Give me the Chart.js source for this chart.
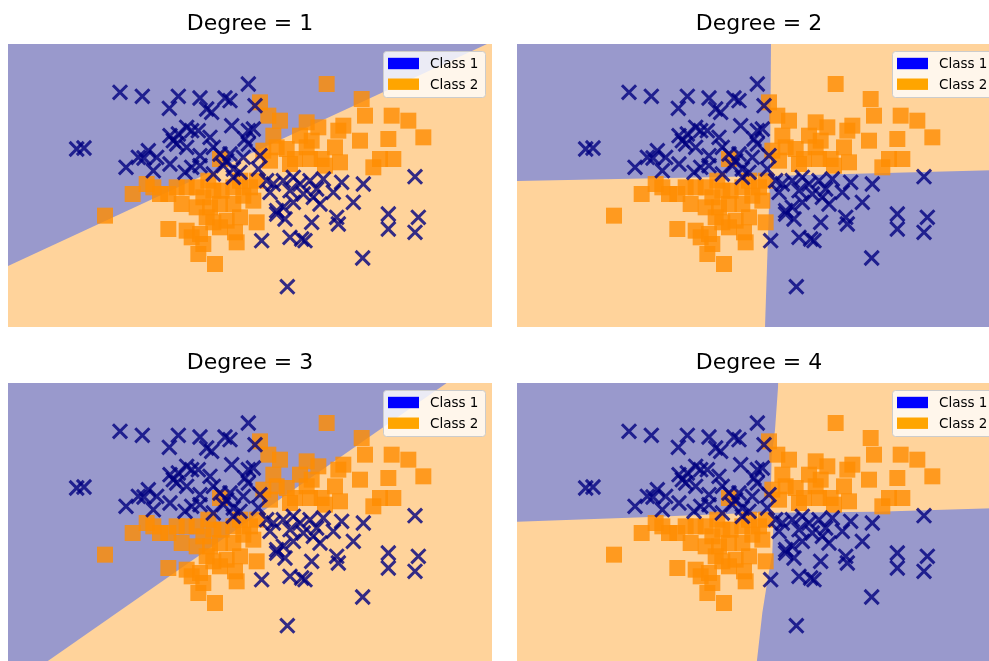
<!DOCTYPE html>
<html>
<head>
<meta charset="utf-8">
<script src="https://cdn.jsdelivr.net/npm/chart.js@4/dist/chart.umd.min.js"></script>
<style>
  html, body { margin: 0; padding: 0; background: #fff; overflow: hidden; width: 989px; height: 661px; }
  .panel { position: absolute; width: 484px; height: 327px; }
</style>
</head>
<body>
<div class="panel" style="left:8px;top:0"><canvas id="deg1" width="484" height="327"></canvas></div>
<div class="panel" style="left:517px;top:0"><canvas id="deg2" width="484" height="327"></canvas></div>
<div class="panel" style="left:8px;top:339px"><canvas id="deg3" width="484" height="327"></canvas></div>
<div class="panel" style="left:517px;top:339px"><canvas id="deg4" width="484" height="327"></canvas></div>
<script>
// Polynomial decision regions, degree 1..4, same two-class sample in every panel.

const X_MIN = 0, X_MAX = 14.52;
const Y_MIN = 0, Y_MAX = 8.49;

const degrees = [1, 2, 3, 4];
const legendLabels = ["Class 1", "Class 2"];
const legendColors = ["#0000ff", "#ffa500"];

// class 1 (navy x)
const class1X = [3.36,4.03,5.11,4.84,5.76,5.96,6.11,6.51,6.66,7.21,7.41,2.06,2.28,3.54,3.91,4.21,4.08,4.36,4.46,4.86,
  4.96,5.11,5.36,5.51,5.06,5.36,5.71,6.06,5.76,6.16,6.71,7.21,7.36,7.11,7.21,6.36,6.66,6.56,4.86,5.31,
  5.51,5.76,6.16,6.46,6.76,6.96,6.76,7.56,7.51,7.76,7.96,7.86,8.26,8.56,8.76,8.86,9.06,9.26,9.46,9.76,
  10.01,10.66,10.36,9.36,8.56,8.26,8.06,8.31,9.11,9.86,9.91,8.46,8.81,8.91,7.61,11.41,11.41,12.31,12.21,12.21,
  10.64,8.38,7.06,9.16,8.46,8.06];
const class1Y = [7.04,6.92,6.92,6.56,6.87,6.54,6.44,6.87,6.79,7.29,6.64,5.34,5.37,4.79,5.09,5.29,5.07,4.69,5.09,5.74,
  5.59,5.79,5.99,5.89,5.49,5.39,5.89,5.69,5.14,5.39,6.04,5.89,5.94,5.64,5.49,5.19,5.19,4.99,4.89,4.64,
  4.79,4.84,4.59,4.84,4.74,4.64,4.49,5.14,4.74,4.39,4.29,4.04,4.39,4.49,4.29,3.99,4.39,4.14,4.44,4.04,
  4.34,4.29,3.74,3.69,3.74,3.59,3.39,3.24,3.14,3.29,3.09,2.69,2.64,2.59,2.59,3.39,2.94,3.29,2.84,4.51,
  2.07,1.21,5.09,3.89,4.09,3.49];

// class 2 (orange squares)
const class2X = [9.56,10.61,10.71,11.51,12.01,12.46,11.41,10.56,10.06,9.91,9.81,9.96,11.16,11.56,10.96,9.31,8.96,9.11,8.76,8.96,
  9.41,9.51,9.06,8.61,8.46,8.16,7.81,7.56,7.96,7.66,8.06,8.36,7.86,2.91,3.74,4.16,4.56,4.81,5.06,5.36,
  5.21,5.66,5.86,6.01,6.16,6.41,6.76,6.96,7.26,7.36,6.76,6.36,6.06,5.96,6.56,6.96,7.46,4.81,5.36,5.51,
  5.76,5.86,5.71,6.21,6.81,6.86,6.36,6.16,7.06,5.66,6.36,7.46,4.36];
const class2Y = [7.29,6.84,6.34,6.34,6.19,5.69,5.64,5.59,6.04,5.89,5.39,4.94,5.04,5.04,4.79,5.99,6.14,5.59,5.74,5.39,
  5.04,4.84,5.04,5.04,4.89,6.19,6.34,6.74,5.74,5.29,5.39,5.34,4.99,3.34,3.99,4.29,3.99,3.99,4.19,4.19,
  3.69,4.19,3.89,4.39,4.09,4.09,4.19,4.39,4.19,3.79,3.69,3.69,3.59,3.29,3.19,3.29,3.14,2.94,2.89,2.69,
  2.79,2.49,2.19,1.89,2.84,2.54,2.99,3.14,3.94,3.59,5.04,4.39,4.19];

// class-1 regions: boundary points, filled to the top ("end") or bottom ("start")
const regions = {
  1: [
    { x: [0, 14.37], y: [1.83, 8.49], fill: "end" },
  ],
  2: [
    { x: [0, 7.59, 7.62], y: [4.38, 4.53, 8.49], fill: "end" },
    { x: [7.44, 7.59, 14.52], y: [0, 4.53, 4.71], fill: "start" },
  ],
  3: [
    { x: [0, 0.98, 13.16], y: [0, 0, 8.49], fill: "end" },
  ],
  4: [
    { x: [0, 3.79, 6.79, 7.60, 7.64, 7.74, 7.84], y: [4.33, 4.46, 4.58, 4.60, 6.30, 7.08, 8.49], fill: "end" },
    { x: [7.18, 7.36, 7.52, 7.66, 7.70, 10.79, 14.52], y: [0, 1.60, 2.60, 3.40, 4.60, 4.63, 4.74], fill: "start" },
  ],
};

const BG_CLASS1 = "#9999cc";
const BG_CLASS2 = "#ffd39b";

const toPts = (xs, ys) => xs.map((x, i) => ({ x, y: ys[i] }));

const boxLegend = {
  id: "boxLegend",
  afterDatasetsDraw(chart) {
    const { ctx, chartArea: a } = chart;
    const w = 102, h = 46;
    const x0 = a.right - 7 - w, y0 = a.top + 7;
    ctx.save();
    ctx.beginPath();
    ctx.roundRect(x0 + 0.5, y0 + 0.5, w, h, 3);
    ctx.fillStyle = "rgba(255,255,255,0.8)";
    ctx.fill();
    ctx.strokeStyle = "#cccccc";
    ctx.lineWidth = 1;
    ctx.stroke();
    ctx.font = '13.5px "DejaVu Sans"';
    ctx.textBaseline = "middle";
    legendLabels.forEach((lab, i) => {
      const cy = y0 + 12.5 + i * 20.7;
      ctx.fillStyle = legendColors[i];
      ctx.fillRect(x0 + 5, cy - 5.7, 31, 11.4);
      ctx.fillStyle = "#000";
      ctx.fillText(lab, x0 + 47, cy + 1);
    });
    ctx.restore();
  },
};

function makeChart(deg) {
  const regionSets = regions[deg].map(r => ({
    type: "line",
    data: toPts(r.x, r.y),
    borderWidth: 0,
    pointRadius: 0,
    tension: 0,
    fill: r.fill,
    backgroundColor: BG_CLASS1,
    order: 2,
  }));
  new Chart(document.getElementById("deg" + deg), {
    type: "scatter",
    data: {
      datasets: [
        {
          label: legendLabels[0],
          data: toPts(class1X, class1Y),
          pointStyle: "crossRot",
          pointRadius: 10,
          borderWidth: 3,
          borderColor: "rgba(0,0,128,0.8)",
          backgroundColor: "rgba(0,0,128,0.8)",
          order: 0,
        },
        {
          label: legendLabels[1],
          data: toPts(class2X, class2Y),
          pointStyle: "rect",
          pointRadius: 11.3,
          borderWidth: 0,
          backgroundColor: "rgba(255,140,0,0.8)",
          order: 1,
        },
        ...regionSets,
        {
          type: "line",
          data: toPts([X_MIN, X_MAX], [Y_MIN, Y_MIN]),
          borderWidth: 0,
          pointRadius: 0,
          fill: "end",
          backgroundColor: BG_CLASS2,
          order: 3,
        },
      ],
    },
    options: {
      responsive: false,
      animation: false,
      events: [],
      layout: { padding: 0, autoPadding: false },
      scales: {
        x: { type: "linear", min: X_MIN, max: X_MAX, display: false },
        y: { type: "linear", min: Y_MIN, max: Y_MAX, display: false },
      },
      plugins: {
        legend: { display: false },
        tooltip: { enabled: false },
        title: {
          display: true,
          text: `Degree = ${deg}`,
          color: "#000",
          font: { family: "DejaVu Sans", size: 22, weight: "normal", lineHeight: 1.2 },
          padding: { top: 11.3, bottom: 6.3 },
        },
      },
    },
    plugins: [boxLegend],
  });
}

degrees.forEach(makeChart);
</script>
</body>
</html>
